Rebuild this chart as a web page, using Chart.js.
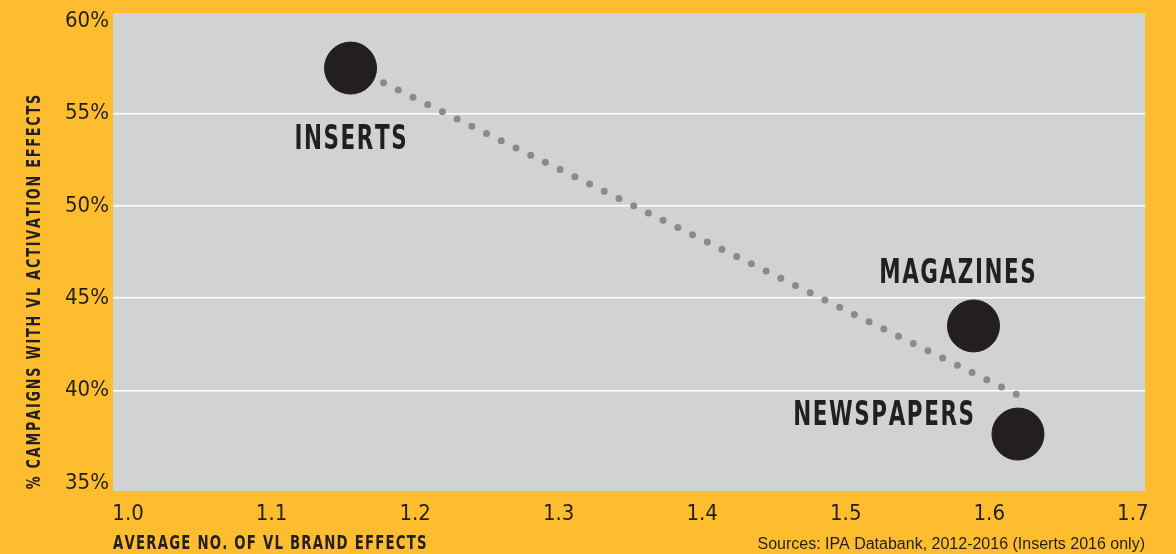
<!DOCTYPE html>
<html>
<head>
<meta charset="utf-8">
<script src="https://cdn.jsdelivr.net/npm/chart.js@4.4.1/dist/chart.umd.min.js"></script>
<style>
    html, body { margin: 0; padding: 0; background: #fdbd2e; }
    #wrap { width: 1176px; height: 554px; }
</style>
</head>
<body>
<div id="wrap"><canvas id="chart" width="1176" height="554"></canvas></div>
<script>
// media categories and their values
const mediaLabels = ['INSERTS', 'MAGAZINES', 'NEWSPAPERS'];
const brandEffects = [1.155, 1.589, 1.62];      // x: average no. of VL brand effects
const activationPct = [57.45, 43.5, 37.65];     // y: % campaigns with VL activation effects

// dotted trend line end points
const trendX = [1.178, 1.6195];
const trendY = [56.66, 39.78];

// tick labels
const xTicks = [1.0, 1.1, 1.2, 1.3, 1.4, 1.5, 1.6, 1.7];
const yTicks = [35, 40, 45, 50, 55, 60];

const YELLOW = '#fdbd2e';
const PLOT_GREY = '#d1d2d4';
const INK = '#231f20';
const TICK_FONT = "'DejaVu Sans Condensed', 'Liberation Sans Narrow', 'Roboto', sans-serif";

// draw text letter by letter, with spacing and horizontal squeeze
function drawSpaced(ctx, text, x, y, align, font, scaleX, spacing) {
    ctx.save();
    ctx.font = font;
    ctx.textBaseline = 'middle';
    ctx.textAlign = 'left';
    const widths = [...text].map(ch => ctx.measureText(ch).width * scaleX);
    const total = widths.reduce((a, b) => a + b, 0) + spacing * (text.length - 1);
    let cx = align === 'center' ? x - total / 2 : align === 'right' ? x - total : x;
    [...text].forEach((ch, i) => {
        ctx.save();
        ctx.translate(cx, y);
        ctx.scale(scaleX, 1);
        ctx.fillText(ch, 0, 0);
        ctx.restore();
        cx += widths[i] + spacing;
    });
    ctx.restore();
}

const chartBackground = {
    id: 'chartBackground',
    beforeDraw(chart) {
        const { ctx, chartArea } = chart;
        ctx.save();
        ctx.fillStyle = YELLOW;
        ctx.fillRect(0, 0, chart.width, chart.height);
        ctx.fillStyle = PLOT_GREY;
        ctx.fillRect(chartArea.left, chartArea.top, chartArea.right - chartArea.left, chartArea.bottom - chartArea.top);
        ctx.restore();
    }
};

// point labels and axis titles
const annotations = {
    id: 'annotations',
    afterDraw(chart) {
        const { ctx, chartArea } = chart;
        const meta = chart.getDatasetMeta(1);
        const labelFont = "bold 33px 'DejaVu Sans', sans-serif";
        const offsets = [
            { dx: 0, dy: 72, align: 'center' },
            { dx: -16, dy: -52, align: 'center' },
            { dx: -44, dy: -18, align: 'right' }
        ];
        ctx.fillStyle = INK;
        meta.data.forEach((pt, i) => {
            const o = offsets[i];
            drawSpaced(ctx, mediaLabels[i], pt.x + o.dx, pt.y + o.dy, o.align, labelFont, 0.65, 1.6);
        });

        // x title
        drawSpaced(ctx, 'AVERAGE NO. OF VL BRAND EFFECTS', chartArea.left, 544, 'left',
            "bold 19px 'DejaVu Sans', sans-serif", 0.7, 1.2);

        // y title (rotated)
        ctx.save();
        ctx.translate(35, 292);
        ctx.rotate(-Math.PI / 2);
        drawSpaced(ctx, '% CAMPAIGNS WITH VL ACTIVATION EFFECTS', 0, 0, 'center',
            "bold 20px 'DejaVu Sans', sans-serif", 0.64, 1.8);
        ctx.restore();

        // source
        ctx.save();
        ctx.font = "16px 'Liberation Sans', Arial, sans-serif";
        ctx.textAlign = 'right';
        ctx.textBaseline = 'middle';
        ctx.fillStyle = INK;
        ctx.fillText('Sources: IPA Databank, 2012-2016 (Inserts 2016 only)', chartArea.right, 545);
        ctx.restore();
    }
};

const ctx = document.getElementById('chart').getContext('2d');
new Chart(ctx, {
    type: 'scatter',
    data: {
        datasets: [
            {
                type: 'line',
                data: trendX.map((x, i) => ({ x: x, y: trendY[i] })),
                borderColor: '#8a8a8c',
                borderWidth: 7,
                borderDash: [0, 16.4],
                borderCapStyle: 'round',
                pointRadius: 0,
                fill: false,
                order: 2
            },
            {
                data: brandEffects.map((x, i) => ({ x: x, y: activationPct[i] })),
                backgroundColor: INK,
                borderColor: INK,
                pointRadius: 26,
                pointHoverRadius: 26,
                order: 1
            }
        ]
    },
    options: {
        responsive: false,
        animation: false,
        // big points would otherwise push the plot area down
        layout: { autoPadding: false, padding: { left: 0, top: 13, right: 31, bottom: 0 } },
        plugins: {
            legend: { display: false },
            tooltip: { enabled: false }
        },
        scales: {
            x: {
                type: 'linear',
                min: 0.9895,
                max: 1.7085,
                afterBuildTicks: (axis) => { axis.ticks = xTicks.map(v => ({ value: v })); },
                afterFit: (axis) => {
                    axis.height = 63;
                    axis.paddingLeft = 0;
                    axis.paddingRight = 0;
                },
                grid: { display: false, drawTicks: false },
                border: { display: false },
                ticks: {
                    padding: 10,
                    color: INK,
                    font: { family: TICK_FONT, size: 22 },
                    callback: (v) => Number(v).toFixed(1)
                }
            },
            y: {
                type: 'linear',
                min: 34.57,
                max: 60.43,
                afterBuildTicks: (axis) => { axis.ticks = yTicks.map(v => ({ value: v })); },
                afterFit: (axis) => {
                    axis.width = 113;
                    axis.paddingTop = 0;
                    axis.paddingBottom = 0;
                },
                grid: {
                    drawTicks: false,
                    lineWidth: 1.5,
                    color: (c) => (c.tick && (c.tick.value === 35 || c.tick.value === 60)) ? 'rgba(0,0,0,0)' : '#ffffff'
                },
                border: { display: false },
                ticks: {
                    padding: 4,
                    color: INK,
                    font: { family: TICK_FONT, size: 22 },
                    callback: (v) => v + '%'
                }
            }
        }
    },
    plugins: [chartBackground, annotations]
});
</script>
</body>
</html>
